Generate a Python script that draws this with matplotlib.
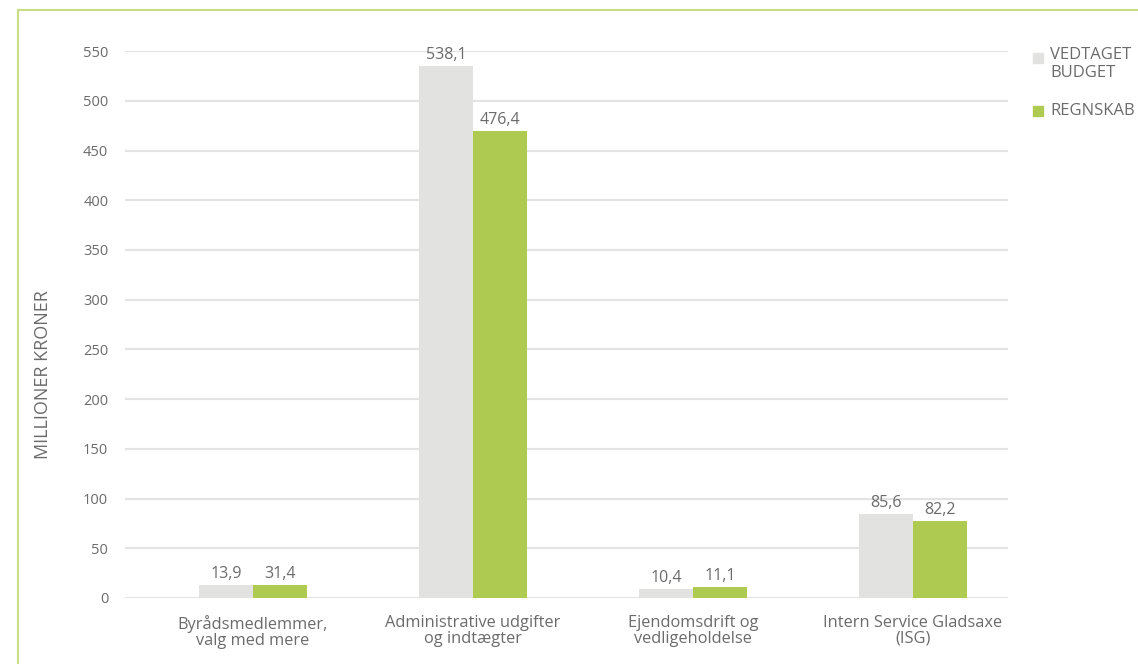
import matplotlib
matplotlib.use("Agg")
import matplotlib.pyplot as plt
import numpy as np

GREY, GREEN, TXT, GRID, FRAME = "#e2e3e1", "#afca50", "#6b6b6b", "#e3e3e3", "#c8de84"
plt.rcParams.update({"font.family": ["Open Sans", "DejaVu Sans"]})

CATEGORIES = ["Byrådsmedlemmer,\nvalg med mere", "Administrative udgifter\nog indtægter",
              "Ejendomsdrift og\nvedligeholdelse", "Intern Service Gladsaxe\n(ISG)"]
# bar heights as drawn in the picture
BUDGET = [12.6, 535.0, 9.3, 84.5]
REGNSKAB = [12.6, 470.0, 11.0, 77.5]
# value labels as printed
BUDGET_LBL = ["13,9", "538,1", "10,4", "85,6"]
REGNSKAB_LBL = ["31,4", "476,4", "11,1", "82,2"]
YTICKS = list(range(0, 551, 50))

fig = plt.figure(figsize=(11.38, 6.64), dpi=100)
ax = fig.add_axes([0.1098, 0.0994, 0.776, 0.8236])

x = np.arange(len(CATEGORIES))
w = 0.245
ax.bar(x - w / 2, BUDGET, w, color=GREY, zorder=3)
ax.bar(x + w / 2, REGNSKAB, w, color=GREEN, zorder=3)
for xi in x:
    ax.text(xi - w / 2, BUDGET[xi] + 3, BUDGET_LBL[xi], ha="center", va="bottom", fontsize=11.5, color=TXT)
    ax.text(xi + w / 2, REGNSKAB[xi] + 3, REGNSKAB_LBL[xi], ha="center", va="bottom", fontsize=11.5, color=TXT)

ax.set_xlim(-0.582, 3.432)
ax.set_ylim(0, 550)
ax.set_yticks(YTICKS)
ax.set_yticklabels([str(t) for t in YTICKS], fontsize=10.5, color=TXT)
ax.set_xticks(x)
ax.set_xticklabels(CATEGORIES, fontsize=11.8, color=TXT, linespacing=1.0)
ax.tick_params(length=0)
ax.tick_params(axis="y", pad=12)
ax.tick_params(axis="x", pad=12)
for s in ax.spines.values():
    s.set_visible(False)
ax.yaxis.grid(True, color=GRID, linewidth=1.5, zorder=0)
ax.set_axisbelow(True)
ax.set_ylabel("MILLIONER KRONER", fontsize=13, color=TXT)
ax.yaxis.set_label_coords(-0.083, 0.408)

# legend
fig.patches.append(plt.Rectangle((1033 / 1138, 1 - 63 / 664), 10 / 1138, 10 / 664,
                                 transform=fig.transFigure, color=GREY))
fig.patches.append(plt.Rectangle((1033 / 1138, 1 - 116 / 664), 10 / 1138, 10 / 664,
                                 transform=fig.transFigure, color=GREEN))
fig.text(1050 / 1138, 1 - 47 / 664, "VEDTAGET\nBUDGET", ha="left", va="top", fontsize=12,
         color=TXT, linespacing=1.15)
fig.text(1050 / 1138, 1 - 111 / 664, "REGNSKAB", ha="left", va="center", fontsize=12, color=TXT)

# green frame
fig.add_artist(plt.Line2D([18 / 1138, 18 / 1138], [0, 1 - 10 / 664], transform=fig.transFigure,
                          color=FRAME, linewidth=1.5))
fig.add_artist(plt.Line2D([18 / 1138, 1], [1 - 10 / 664, 1 - 10 / 664], transform=fig.transFigure,
                          color=FRAME, linewidth=1.5))

fig.savefig("out.png")
